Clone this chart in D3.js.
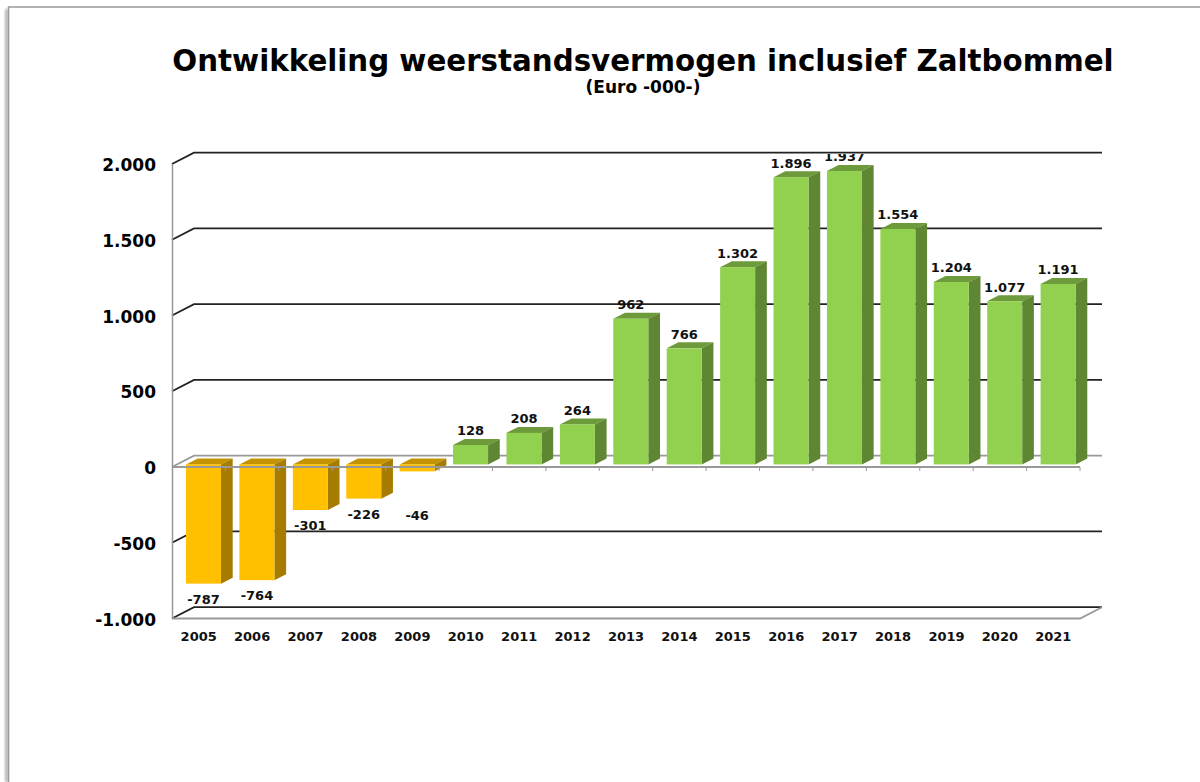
<!DOCTYPE html>
<html>
<head>
<meta charset="utf-8">
<script src="https://cdn.jsdelivr.net/npm/d3@7"></script>
<style>
  html, body { margin: 0; padding: 0; background: #fff; overflow: hidden; }
  svg { display: block; font-family: 'DejaVu Sans', Verdana, sans-serif; font-weight: bold; }
</style>
</head>
<body>
<svg id="chart"></svg>
<script>
const years = ['2005', '2006', '2007', '2008', '2009', '2010', '2011', '2012', '2013', '2014', '2015', '2016', '2017', '2018', '2019', '2020', '2021']
const values = [-787, -764, -301, -226, -46, 128, 208, 264, 962, 766, 1302, 1896, 1937, 1554, 1204, 1077, 1191]
const yTicks = [-1000, -500, 0, 500, 1000, 1500, 2000]
const titleText = 'Ontwikkeling weerstandsvermogen inclusief Zaltbommel'
const subtitleText = '(Euro -000-)'

const width = 1200
const height = 782
const plot = {left: 172, right: 1080, top: 164, bottom: 618.5}
const wall = {dx: 22, dy: -11.3}
const barFront = {dx: 4.8, dy: -2.6}
const barDepth = {dx: 11.7, dy: -6}
const barWidth = 35

const colors = {
  pos: {front: '#92d050', side: '#5f8632', top: '#6d9a3b'},
  neg: {front: '#ffc000', side: '#a67c00', top: '#c49300'},
  grid: '#222',
  axis: '#999'
}

// dutch thousands: 1.937
const fmt = (v) => {
  const a = Math.abs(v)
  const s = a >= 1000 ? Math.floor(a / 1000) + '.' + String(a % 1000).padStart(3, '0') : String(a)
  return (v < 0 ? '-' : '') + s
}

const svg = d3.select('#chart')
  .attr('width', width)
  .attr('height', height)

const defs = svg.append('defs')
defs.append('filter')
  .attr('id', 'frame-shadow')
  .attr('filterUnits', 'userSpaceOnUse')
  .attr('x', 0)
  .attr('y', 0)
  .attr('width', 20)
  .attr('height', height)
  .append('feGaussianBlur')
  .attr('stdDeviation', 1)
defs.append('clipPath')
  .attr('id', 'label-clip')
  .append('rect')
  .attr('x', 0)
  .attr('y', 154)
  .attr('width', width)
  .attr('height', height)

// page frame
svg.append('line')
  .attr('x1', 6.5).attr('x2', 6.5).attr('y1', 9).attr('y2', height)
  .attr('stroke', '#b5b5b5').attr('stroke-width', 3)
  .attr('filter', 'url(#frame-shadow)')
svg.append('path')
  .attr('d', `M8.5,${height}V7H${width}`)
  .attr('fill', 'none')
  .attr('stroke', '#999')
  .attr('stroke-width', 1.5)

svg.append('text')
  .text(titleText)
  .attr('x', 643)
  .attr('y', 71)
  .attr('text-anchor', 'middle')
  .attr('font-size', 29.3)
  .attr('fill', '#000')
svg.append('text')
  .text(subtitleText)
  .attr('x', 643)
  .attr('y', 93)
  .attr('text-anchor', 'middle')
  .attr('font-size', 17)
  .attr('fill', '#000')

const x = d3.scaleBand()
  .domain(years)
  .range([plot.left, plot.right])
const y = d3.scaleLinear()
  .domain([-1000, 2000])
  .range([plot.bottom, plot.top])

// back wall lines with their diagonals
const gridG = svg.append('g').classed('grid', true)
gridG.selectAll('path')
  .data(yTicks.filter((d) => d !== 0 && d !== -1000))
  .enter()
  .append('path')
  .attr('d', (d) => `M${plot.left},${y(d)}L${plot.left + wall.dx},${y(d) + wall.dy}H${plot.right + wall.dx}`)
  .attr('fill', 'none')
  .attr('stroke', colors.grid)
  .attr('stroke-width', 1.8)

// floor at -1000
svg.append('path')
  .attr('d', `M${plot.left},${y(-1000)}L${plot.left + wall.dx},${y(-1000) + wall.dy}H${plot.right + wall.dx}`)
  .attr('fill', 'none')
  .attr('stroke', colors.grid)
  .attr('stroke-width', 1.8)
svg.append('path')
  .attr('d', `M${plot.left},${y(-1000)}H${plot.right}L${plot.right + wall.dx},${y(-1000) + wall.dy}`)
  .attr('fill', 'none')
  .attr('stroke', colors.axis)
  .attr('stroke-width', 1.8)

// back of the zero plane
svg.append('path')
  .attr('d', `M${plot.left},${y(0)}L${plot.left + wall.dx},${y(0) + wall.dy}H${plot.right + wall.dx}`)
  .attr('fill', 'none')
  .attr('stroke', colors.axis)
  .attr('stroke-width', 1.8)

const barColor = (d) => d < 0 ? colors.neg : colors.pos
const barX = (i) => x(years[i]) + barFront.dx + (x.bandwidth() - barWidth) / 2
const topY = (d) => y(Math.max(d, 0)) + barFront.dy
const bottomY = (d) => y(Math.min(d, 0)) + barFront.dy

const bars = svg.append('g').classed('bars', true)
const barData = values.map((v, i) => ({v, i}))
bars.selectAll('path.top')
  .data(barData)
  .enter()
  .append('path')
  .classed('top', true)
  .attr('d', (d) => {
    const x0 = barX(d.i)
    const t = topY(d.v)
    return `M${x0},${t}l${barDepth.dx},${barDepth.dy}h${barWidth}l${-barDepth.dx},${-barDepth.dy}Z`
  })
  .attr('fill', (d) => barColor(d.v).top)
bars.selectAll('path.side')
  .data(barData)
  .enter()
  .append('path')
  .classed('side', true)
  .attr('d', (d) => {
    const x1 = barX(d.i) + barWidth
    const t = topY(d.v)
    const b = bottomY(d.v)
    return `M${x1},${t}l${barDepth.dx},${barDepth.dy}V${b + barDepth.dy}L${x1},${b}Z`
  })
  .attr('fill', (d) => barColor(d.v).side)

// axes, through the side faces but behind the front faces
const xAxis = d3.axisBottom(x)
  .tickSize(0)
  .tickPadding(0)
const xAxisG = svg.append('g')
  .classed('x-axis', true)
  .attr('transform', `translate(0,${plot.bottom})`)
  .call(xAxis)
  .attr('font-family', null)
  .attr('font-size', null)
xAxisG.select('path.domain').remove()
xAxisG.selectAll('text')
  .attr('y', 22)
  .attr('dy', 0)
  .attr('font-size', 13)
  .attr('fill', '#111')

svg.append('line')
  .attr('x1', plot.left).attr('x2', plot.right)
  .attr('y1', y(0)).attr('y2', y(0))
  .attr('stroke', colors.axis)
  .attr('stroke-width', 1.8)
svg.append('g')
  .classed('zero-ticks', true)
  .selectAll('line')
  .data(years)
  .enter()
  .append('line')
  .attr('x1', (d) => x(d) + x.bandwidth())
  .attr('x2', (d) => x(d) + x.bandwidth())
  .attr('y1', y(0))
  .attr('y2', y(0) + 4)
  .attr('stroke', colors.axis)
  .attr('stroke-width', 1)

const yAxis = d3.axisLeft(y)
  .tickValues(yTicks)
  .tickFormat(fmt)
  .tickSize(0)
  .tickPadding(16)
const yAxisG = svg.append('g')
  .classed('y-axis', true)
  .attr('transform', `translate(${plot.left},0)`)
  .call(yAxis)
  .attr('font-family', null)
  .attr('font-size', null)
yAxisG.select('path.domain')
  .attr('stroke', colors.axis)
  .attr('stroke-width', 1.5)
yAxisG.selectAll('text')
  .attr('dy', 6.6)
  .attr('font-size', 17)
  .attr('fill', '#000')

bars.append('g')
  .selectAll('rect')
  .data(barData)
  .enter()
  .append('rect')
  .attr('x', (d) => barX(d.i))
  .attr('y', (d) => topY(d.v))
  .attr('width', barWidth)
  .attr('height', (d) => bottomY(d.v) - topY(d.v))
  .attr('fill', (d) => barColor(d.v).front)

// value labels, -46 sits lower than the rest in the original
const labelY = (d) => {
  if (d === -46) return bottomY(d) + 49
  return d < 0 ? bottomY(d) + 20 : topY(d) + barDepth.dy - 3.6
}
svg.append('g')
  .classed('labels', true)
  .attr('clip-path', 'url(#label-clip)')
  .selectAll('text')
  .data(barData)
  .enter()
  .append('text')
  .text((d) => fmt(d.v))
  .attr('x', (d) => barX(d.i) + barWidth / 2)
  .attr('y', (d) => labelY(d.v))
  .attr('text-anchor', 'middle')
  .attr('font-size', 13)
  .attr('fill', '#111')
</script>
</body>
</html>
